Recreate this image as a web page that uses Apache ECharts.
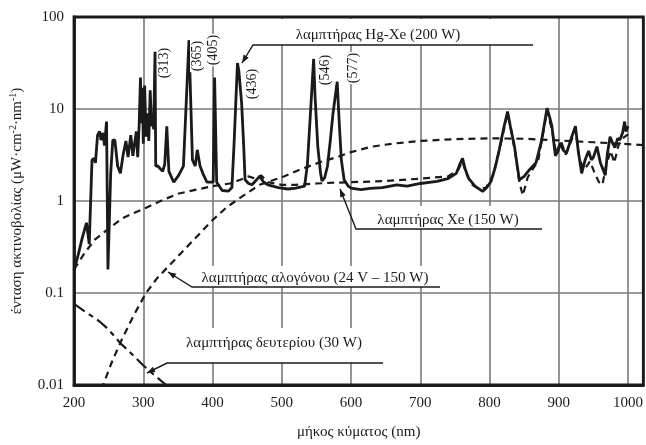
<!DOCTYPE html>
<html><head><meta charset="utf-8">
<script src="https://cdn.jsdelivr.net/npm/echarts@6/dist/echarts.min.js"></script>
<style>html,body{margin:0;padding:0;background:#fff}#c{width:646px;height:445px}</style>
</head><body><div id="c"></div>
<script>
// ---- Data (wavelength nm / irradiance µW·cm^-2·nm^-1) ----
const xTicks = [200, 300, 400, 500, 600, 700, 800, 900, 1000];
const yTicks = ['0.01', '0.1', '1', '10', '100'];

const hgXeNm  = [200,206,212,218,222,226,229,231,234,237,239,242,244,247,249,253,256,259,263,267,271,275,278,282,285,287,290,292,294,296,297,299,300,302,304,306,308,310,312,314,315,317,318,321,328,331,334,337,344,351,358,366,371,375,378,382,386,392,401,403,406,414,423,428,431,436,438,442,445,447,452,457,462,468,474,480,495,509,520,533,537,541,546,548,552,556,558,562,566,570,574,580,583,586,590,596,600,614,628,645,666,681,700,724,740,752,758,761,765,770,779,790,796,802,808,814,820,826,830,836,840,843,850,858,867,875,883,887,890,895,899,902,906,911,918,924,928,933,938,943,947,950,955,960,967,970,974,978,981,985,988,992,995,997,1000];
const hgXeVal = [0.175,0.26,0.4,0.58,0.34,2.8,2.9,2.6,5.2,5.7,4.6,5.5,4.0,7.3,0.18,2.0,4.6,4.6,2.4,2.0,3.2,4.5,3.0,5.2,3.1,3.1,5.7,3.0,6.5,22,7,17,4.2,18,5,9,4.5,16,6.5,8,6,42,2.4,2.4,2.1,2.5,6.5,2.1,1.6,1.9,2.4,56,2.8,2.4,3.6,2.4,2.0,1.6,1.6,22,1.6,1.3,1.28,1.4,4,31.6,26,11.7,4,1.7,1.55,1.5,1.65,1.85,1.6,1.5,1.4,1.35,1.38,1.45,2.5,8,35,14,3.9,2.0,1.65,1.8,2.4,4.5,9,19.8,7,2.8,1.7,1.45,1.38,1.33,1.37,1.4,1.5,1.45,1.55,1.63,1.75,2.0,2.6,2.9,2.2,1.75,1.45,1.27,1.4,1.63,2.3,3.6,6,9.4,6.5,3.9,2.4,1.7,1.85,2.2,2.6,4.5,10.2,8,6.5,3.1,3.5,4.3,3.6,3.3,4.8,6.5,3.5,2.0,2.8,3.5,2.8,3.0,3.9,2.6,1.9,3.2,5.0,4.2,3.8,4.8,4.6,5.5,7.3,5.7,6.5];

const xeNm  = [200,215,230,250,270,290,305,325,350,375,400,425,440,452,462,470,480,500,520,550,575,600,650,700,740,755,761,766,775,785,795,805,815,826,832,838,843,848,855,862,870,883,890,896,903,910,918,924,930,937,945,952,958,963,968,975,980,986,992,1000];
const xeVal = [0.18,0.27,0.38,0.5,0.65,0.76,0.85,1.0,1.2,1.32,1.45,1.55,1.7,1.85,1.75,1.9,1.6,1.5,1.5,1.55,1.58,1.6,1.65,1.75,1.85,2.2,2.7,2.0,1.5,1.35,1.4,1.9,3.8,9.0,5.5,3.0,1.6,1.15,1.8,2.2,2.7,9.5,6.0,3.3,4.5,3.2,4.5,6.0,2.8,2.2,2.7,2.0,1.6,1.5,2.4,3.5,2.6,4.0,4.8,5.3];

const halogenNm  = [230,242,255,268,285,304,320,335,360,380,397,420,445,468,503,530,557,580,600,630,660,700,750,800,850,900,950,1000,1022];
const halogenVal = [0.005,0.01,0.018,0.03,0.055,0.1,0.145,0.19,0.3,0.43,0.59,0.85,1.15,1.5,1.85,2.25,2.67,3.0,3.4,3.9,4.2,4.5,4.7,4.8,4.75,4.55,4.35,4.15,4.05];

const deutNm  = [200,220,237,250,266,280,299,315,333,350];
const deutVal = [0.076,0.06,0.049,0.04,0.029,0.023,0.0166,0.013,0.01,0.0075];

const peakLabels = ['(313)', '(365)', '(405)', '(436)', '(546)', '(577)'];
const lampLabels = ['λαμπτήρας Hg-Xe (200 W)', 'λαμπτήρας Xe (150 W)', 'λαμπτήρας αλογόνου (24 V – 150 W)', 'λαμπτήρας δευτερίου (30 W)'];

const zip = (a, b) => a.map((v, i) => [v, b[i]]);

// ---- Styling / layout ----
const FONT = '"Liberation Serif", "DejaVu Serif", serif';
const INK = '#1a1a1a';
const GRIDC = '#7a7a7a';

const chart = echarts.init(document.getElementById('c'));

function lineSeries(name, data, width, type, z) {
  return {
    name, type: 'line', data, showSymbol: false, symbol: 'none', smooth: false,
    clip: true, z,
    lineStyle: { color: INK, width, type },
    emphasis: { disabled: true }, silent: true, animation: false
  };
}

// annotation layout (pixels): text centre, underline [x1,x2,y], arrow tip
const ann = [
  { t: lampLabels[0], cx: 378, cy: 35,  u: [253, 533, 45],  tip: [242, 63],  mask: [253, 19, 280, 26] },
  { t: lampLabels[1], cx: 448, cy: 220, u: [356, 542, 229], tip: [340, 189], mask: [356, 206, 186, 23] },
  { t: lampLabels[2], cx: 315, cy: 278, u: [192, 440, 287], tip: [168, 272], mask: [192, 266, 248, 21] },
  { t: lampLabels[3], cx: 274, cy: 343, u: [167, 383, 363], tip: [147, 373], mask: [167, 328, 216, 35] }
];
const peaks = [[164, 63], [197, 56], [213, 50], [252, 84], [325, 70], [353, 68]];

const graphics = [];
ann.forEach(a => {
  graphics.push({ type: 'rect', z: 1, silent: true, shape: { x: a.mask[0], y: a.mask[1], width: a.mask[2], height: a.mask[3] }, style: { fill: '#fff' } });
  graphics.push({ type: 'polyline', z: 5, silent: true, shape: { points: [[a.u[1], a.u[2]], [a.u[0], a.u[2]], a.tip] }, style: { stroke: INK, lineWidth: 1.4, fill: null } });
  const dx = a.tip[0] - a.u[0], dy = a.tip[1] - a.u[2];
  const L = Math.hypot(dx, dy), ux = dx / L, uy = dy / L;
  const len = 8, w = 3;
  const bx = a.tip[0] - ux * len, by = a.tip[1] - uy * len;
  graphics.push({ type: 'polygon', z: 5, silent: true, shape: { points: [a.tip, [bx - uy * w, by + ux * w], [bx + uy * w, by - ux * w]] }, style: { fill: INK } });
  graphics.push({ type: 'text', z: 5, silent: true, x: a.cx, y: a.cy, style: { text: a.t, fontFamily: FONT, fontSize: 15, fill: INK, align: 'center', verticalAlign: 'middle' } });
});
peaks.forEach((p, i) => {
  graphics.push({ type: 'text', z: 5, silent: true, x: p[0], y: p[1], rotation: Math.PI / 2,
    style: { text: peakLabels[i], fontFamily: FONT, fontSize: 14, fill: INK, align: 'center', verticalAlign: 'middle', backgroundColor: '#fff', padding: [0, 1] } });
});

chart.setOption({
  animation: false,
  backgroundColor: '#fff',
  grid: { left: 71, right: 1, top: 17, bottom: 58, show: true, borderColor: INK, borderWidth: 2.8, z: 3 },
  xAxis: {
    type: 'value', min: 200, max: 1022, interval: 100,
    name: 'μήκος κύματος (nm)', nameLocation: 'middle', nameGap: 40,
    nameTextStyle: { fontFamily: FONT, fontSize: 15, color: INK },
    axisLine: { show: true, lineStyle: { color: INK, width: 2.8 } },
    axisTick: { show: false },
    axisLabel: { fontFamily: FONT, fontSize: 15, color: INK, margin: 11, showMaxLabel: false,
      formatter: v => (xTicks.indexOf(v) >= 0 ? String(v) : '') },
    splitLine: { show: true, lineStyle: { color: GRIDC, width: 1.6 } }
  },
  yAxis: {
    type: 'log', logBase: 10, min: 0.01, max: 100,
    name: '{a|ένταση ακτινοβολίας (μW·cm}{s|-2}{a|·nm}{s|-1}{a|)}',
    nameLocation: 'middle', nameGap: 48,
    nameTextStyle: { rich: {
      a: { fontFamily: FONT, fontSize: 15, color: INK, lineHeight: 18 },
      s: { fontFamily: FONT, fontSize: 10, color: INK, lineHeight: 18, verticalAlign: 'top' }
    } },
    axisLine: { show: true, lineStyle: { color: INK, width: 2.8 } },
    axisTick: { show: false },
    axisLabel: { fontFamily: FONT, fontSize: 15, color: INK, margin: 10,
      formatter: v => { const s = yTicks.find(t => Math.abs(parseFloat(t) - v) < v * 1e-6); return s || ''; } },
    splitLine: { show: true, lineStyle: { color: GRIDC, width: 1.6 } }
  },
  series: [
    lineSeries('deuterium', zip(deutNm, deutVal), 2.2, [13, 5, 5, 5], 2),
    lineSeries('halogen', zip(halogenNm, halogenVal), 2.2, [7, 5], 2),
    lineSeries('xe', zip(xeNm, xeVal), 2.2, [7, 5], 3),
    lineSeries('hgxe', zip(hgXeNm, hgXeVal), 2.8, 'solid', 4)
  ],
  graphic: graphics
});
</script></body></html>
